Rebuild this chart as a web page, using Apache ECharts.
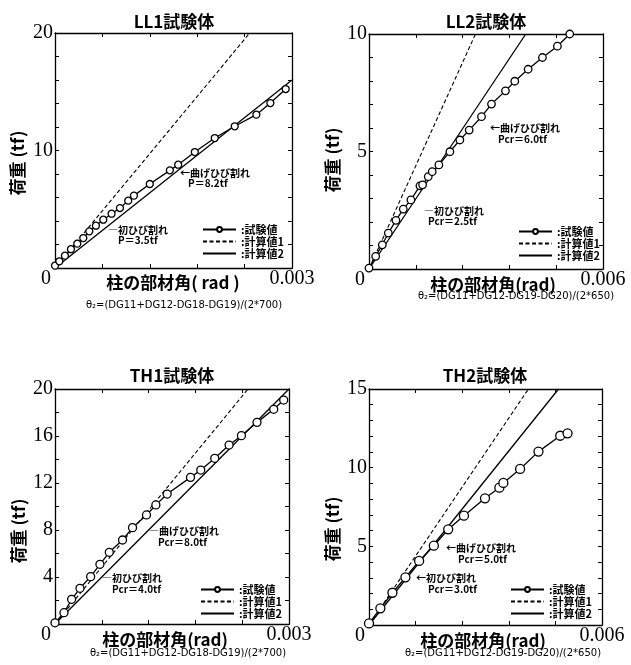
<!DOCTYPE html>
<html>
<head>
<meta charset="utf-8">
<script src="https://cdn.jsdelivr.net/npm/echarts@6/dist/echarts.min.js"></script>
<style>
html,body{margin:0;padding:0;background:#fff;}
#c{width:631px;height:665px;}
</style>
</head>
<body>
<div id="c"></div>
<script>
// ---------- data ----------
const seriesNames = ['試験値', '計算値1', '計算値2'];

// LL1
const ll1TestX = [0, 0.000055, 0.000126, 0.000202, 0.000282, 0.000358, 0.000434, 0.000518, 0.000611, 0.000716, 0.000822, 0.000927, 0.000999, 0.0012, 0.001454, 0.001559, 0.00177, 0.002022, 0.002275, 0.002549, 0.002726, 0.00292];
const ll1TestY = [0.2, 0.57, 1.05, 1.6, 2.07, 2.55, 3.12, 3.6, 4.11, 4.62, 5.1, 5.73, 6.16, 7.15, 8.31, 8.79, 9.87, 11.06, 12.06, 13.05, 14.04, 15.23];
const ll1Calc1X = [0, 0.002465];
const ll1Calc1Y = [0, 20];
const ll1Calc2X = [0, 0.003];
const ll1Calc2Y = [0, 16.0];
const ll1YLabels = [10, 20];

// LL2
const ll2TestX = [0, 0.000171, 0.000341, 0.000495, 0.000691, 0.000879, 0.001075, 0.001306, 0.001374, 0.001519, 0.001621, 0.001792, 0.002074, 0.00233, 0.002569, 0.002885, 0.003141, 0.003499, 0.003738, 0.00408, 0.004447, 0.004831, 0.005147];
const ll2TestY = [0.04, 0.54, 1.03, 1.53, 2.07, 2.55, 2.94, 3.54, 3.58, 3.93, 4.14, 4.43, 4.99, 5.49, 5.91, 6.48, 7.02, 7.58, 7.99, 8.5, 9.0, 9.48, 10.0];
const ll2Calc1X = [0, 0.002731];
const ll2Calc1Y = [0, 10];
const ll2Calc2X = [0, 0.00402];
const ll2Calc2Y = [0, 10];
const ll2YLabels = [5, 10];

// TH1
const th1TestX = [0, 0.000115, 0.000213, 0.00032, 0.000457, 0.000576, 0.000696, 0.000866, 0.000994, 0.001173, 0.001293, 0.001438, 0.001737, 0.001869, 0.002048, 0.002232, 0.00239, 0.00259, 0.002804, 0.002932];
const th1TestY = [0.1, 0.96, 2.1, 3.04, 4.03, 5.08, 6.1, 7.15, 8.2, 9.28, 10.13, 11.06, 12.48, 13.1, 14.1, 15.23, 16.03, 17.16, 18.27, 19.06];
const th1Calc1X = [0, 0.002475];
const th1Calc1Y = [0, 20];
const th1Calc2X = [0, 0.003];
const th1Calc2Y = [0, 20];
const th1YLabels = [4, 8, 12, 16, 20];

// TH2
const th2TestX = [0, 0.000293, 0.000603, 0.000938, 0.001291, 0.00167, 0.00204, 0.002445, 0.002987, 0.003357, 0.00346, 0.003891, 0.004364, 0.004924, 0.005113];
const th2TestY = [0.1, 1.06, 2.05, 3.03, 4.07, 5.04, 6.08, 6.95, 8.05, 8.73, 9.03, 9.92, 11.02, 12.03, 12.18];
const th2Calc1X = [0, 0.004106];
const th2Calc1Y = [0, 15];
const th2Calc2X = [0, 0.004881];
const th2Calc2Y = [0, 15];
const th2YLabels = [5, 10, 15];

// ---------- layout ----------
const panels = [
  {title:'LL1試験体', grid:{left:55, top:33, width:237, height:235}, xMax:0.003, xInt:0.0006, yMax:20, yInt:2, yLabels:ll1YLabels,
   test:[ll1TestX, ll1TestY], c1:[ll1Calc1X, ll1Calc1Y], c2:[ll1Calc2X, ll1Calc2Y], sym:7,
   titlePos:[174,22], yName:[18,163], xName:'柱の部材角( rad )', xNamePos:[173,283], formula:'θ₂=(DG11+DG12-DG18-DG19)/(2*700)', fPos:[184,305],
   legend:[197,219],
   notes:[['←曲げひび割れ',180,173],['P＝8.2tf',188,183],['―初ひび割れ',108,230],['P＝3.5tf',118,240]]},
  {title:'LL2試験体', grid:{left:369, top:34, width:234, height:235}, xMax:0.006, xInt:0.0012, yMax:10, yInt:1, yLabels:ll2YLabels,
   test:[ll2TestX, ll2TestY], c1:[ll2Calc1X, ll2Calc1Y], c2:[ll2Calc2X, ll2Calc2Y], sym:7.5,
   titlePos:[486,22], yName:[333,160], xName:'柱の部材角(rad)', xNamePos:[493,285], formula:'θ₂=(DG11+DG12-DG19-DG20)/(2*650)', fPos:[516,296],
   legend:[513,221],
   notes:[['←曲げひび割れ',490,128],['Pcr＝6.0tf',498,139],['―初ひび割れ',424,211],['Pcr＝2.5tf',428,221]]},
  {title:'TH1試験体', grid:{left:55, top:389, width:234, height:235}, xMax:0.003, xInt:0.0006, yMax:20, yInt:2, yLabels:th1YLabels,
   test:[th1TestX, th1TestY], c1:[th1Calc1X, th1Calc1Y], c2:[th1Calc2X, th1Calc2Y], sym:8,
   titlePos:[172,376], yName:[19,531], xName:'柱の部材角(rad)', xNamePos:[165,640], formula:'θ₂=(DG11+DG12-DG18-DG19)/(2*700)', fPos:[188,653],
   legend:[195,579],
   notes:[['―曲げひび割れ',149,531],['Pcr＝8.0tf',158,542],['―初ひび割れ',102,578],['Pcr＝4.0tf',112,589]]},
  {title:'TH2試験体', grid:{left:369, top:389, width:233, height:236}, xMax:0.006, xInt:0.0012, yMax:15, yInt:1, yLabels:th2YLabels,
   test:[th2TestX, th2TestY], c1:[th2Calc1X, th2Calc1Y], c2:[th2Calc2X, th2Calc2Y], sym:9,
   titlePos:[485,376], yName:[333,529], xName:'柱の部材角(rad)', xNamePos:[483,641], formula:'θ₂=(DG11+DG12-DG19-DG20)/(2*650)', fPos:[503,653],
   legend:[505,579],
   notes:[['←曲げひび割れ',446,548],['Pcr＝5.0tf',458,559],['←初ひび割れ',416,578],['Pcr＝3.0tf',428,589]]}
];

const pairs = (xs, ys) => xs.map((x, i) => [x, ys[i]]);
const SERIF = '"Liberation Serif","DejaVu Serif",serif';
const SANS = '"Noto Sans CJK JP","Noto Sans",sans-serif';
const LW = 1.3;

const option = {
  backgroundColor: '#fff',
  animation: false,
  grid: [], xAxis: [], yAxis: [], series: [], legend: [], graphic: []
};

const mkLine = () => ({show:true, onZero:false, lineStyle:{color:'#000', width:LW}});
const mkTick = () => ({show:true, inside:true, length:4, lineStyle:{color:'#000', width:1}});
const hiddenSymbol = {color:'rgba(0,0,0,0)', borderColor:'rgba(0,0,0,0)', borderWidth:0};

panels.forEach((p, i) => {
  option.grid.push(Object.assign({containLabel:false, show:false}, p.grid));
  option.xAxis.push({
    type:'value', gridIndex:i, min:0, max:p.xMax, interval:p.xInt, position:'bottom',
    axisLine:mkLine(), axisTick:mkTick(), splitLine:{show:false},
    axisLabel:{show:true, margin:1, showMinLabel:true, showMaxLabel:true, color:'#000', fontFamily:SERIF, fontSize:20,
      formatter: v => v === 0 ? '{z|0}' : (Math.abs(v - p.xMax) < 1e-9 ? String(p.xMax) : ''),
      rich:{z:{fontFamily:SERIF, fontSize:20, color:'#000', padding:[0,18,0,0]}}}
  });
  option.xAxis.push({
    type:'value', gridIndex:i, min:0, max:p.xMax, interval:p.xInt, position:'top',
    axisLine:mkLine(), axisTick:mkTick(), axisLabel:{show:false}, splitLine:{show:false}
  });
  option.yAxis.push({
    type:'value', gridIndex:i, min:0, max:p.yMax, interval:p.yInt, position:'left',
    axisLine:mkLine(), axisTick:mkTick(), splitLine:{show:false},
    axisLabel:{show:true, margin:2, color:'#000', fontFamily:SERIF, fontSize:20,
      formatter: v => p.yLabels.indexOf(Math.round(v*1000)/1000) >= 0 ? String(Math.round(v)) : ''}
  });
  option.yAxis.push({
    type:'value', gridIndex:i, min:0, max:p.yMax, interval:p.yInt, position:'right',
    axisLine:mkLine(), axisTick:mkTick(), axisLabel:{show:false}, splitLine:{show:false}
  });
  option.series.push({
    name:seriesNames[1], type:'line', xAxisIndex:2*i, yAxisIndex:2*i, data:pairs(p.c1[0], p.c1[1]),
    showSymbol:false, symbol:'none', lineStyle:{color:'#000', width:1.1, type:[4,2.5]}, itemStyle:{color:'#000'}, z:2
  });
  option.series.push({
    name:seriesNames[2], type:'line', xAxisIndex:2*i, yAxisIndex:2*i, data:pairs(p.c2[0], p.c2[1]),
    showSymbol:false, symbol:'none', lineStyle:{color:'#000', width:LW}, itemStyle:{color:'#000'}, z:2
  });
  option.series.push({
    name:seriesNames[0], type:'line', xAxisIndex:2*i, yAxisIndex:2*i, data:pairs(p.test[0], p.test[1]),
    symbol:'circle', symbolSize:p.sym, showSymbol:true,
    lineStyle:{color:'#000', width:LW}, itemStyle:{color:'#fff', borderColor:'#000', borderWidth:1.3}, z:3
  });
  option.legend.push({
    left:p.legend[0], top:p.legend[1], orient:'vertical', itemWidth:33, itemHeight:6, itemGap:1,
    selectedMode:false,
    data:[
      {name:seriesNames[0]},
      {name:seriesNames[1], itemStyle:hiddenSymbol},
      {name:seriesNames[2], itemStyle:hiddenSymbol}
    ],
    formatter: n => ':' + n,
    textStyle:{color:'#000', fontFamily:SANS, fontSize:11, fontWeight:'bold', lineHeight:10}
  });
  option.graphic.push({type:'text', x:p.titlePos[0], y:p.titlePos[1],
    style:{text:p.title, fill:'#000', font:'bold 17px ' + SANS, textAlign:'center', textVerticalAlign:'middle'}});
  option.graphic.push({type:'text', x:p.yName[0], y:p.yName[1], rotation:Math.PI/2,
    style:{text:'荷重 (tf)', fill:'#000', font:'bold 17px ' + SANS, textAlign:'center', textVerticalAlign:'middle'}});
  option.graphic.push({type:'text', x:p.xNamePos[0], y:p.xNamePos[1],
    style:{text:p.xName, fill:'#000', font:'bold 17px ' + SANS, textAlign:'center', textVerticalAlign:'middle'}});
  option.graphic.push({type:'text', x:p.fPos[0], y:p.fPos[1],
    style:{text:p.formula, fill:'#000', font:'10px "DejaVu Sans",sans-serif', textAlign:'center', textVerticalAlign:'middle'}});
  p.notes.forEach(n => {
    option.graphic.push({type:'text', x:n[1], y:n[2],
      style:{text:n[0], fill:'#000', font:'bold 10px ' + SANS, textAlign:'left', textVerticalAlign:'middle'}});
  });
});

const chart = echarts.init(document.getElementById('c'), null, {renderer:'canvas'});
chart.setOption(option);
</script>
</body>
</html>
